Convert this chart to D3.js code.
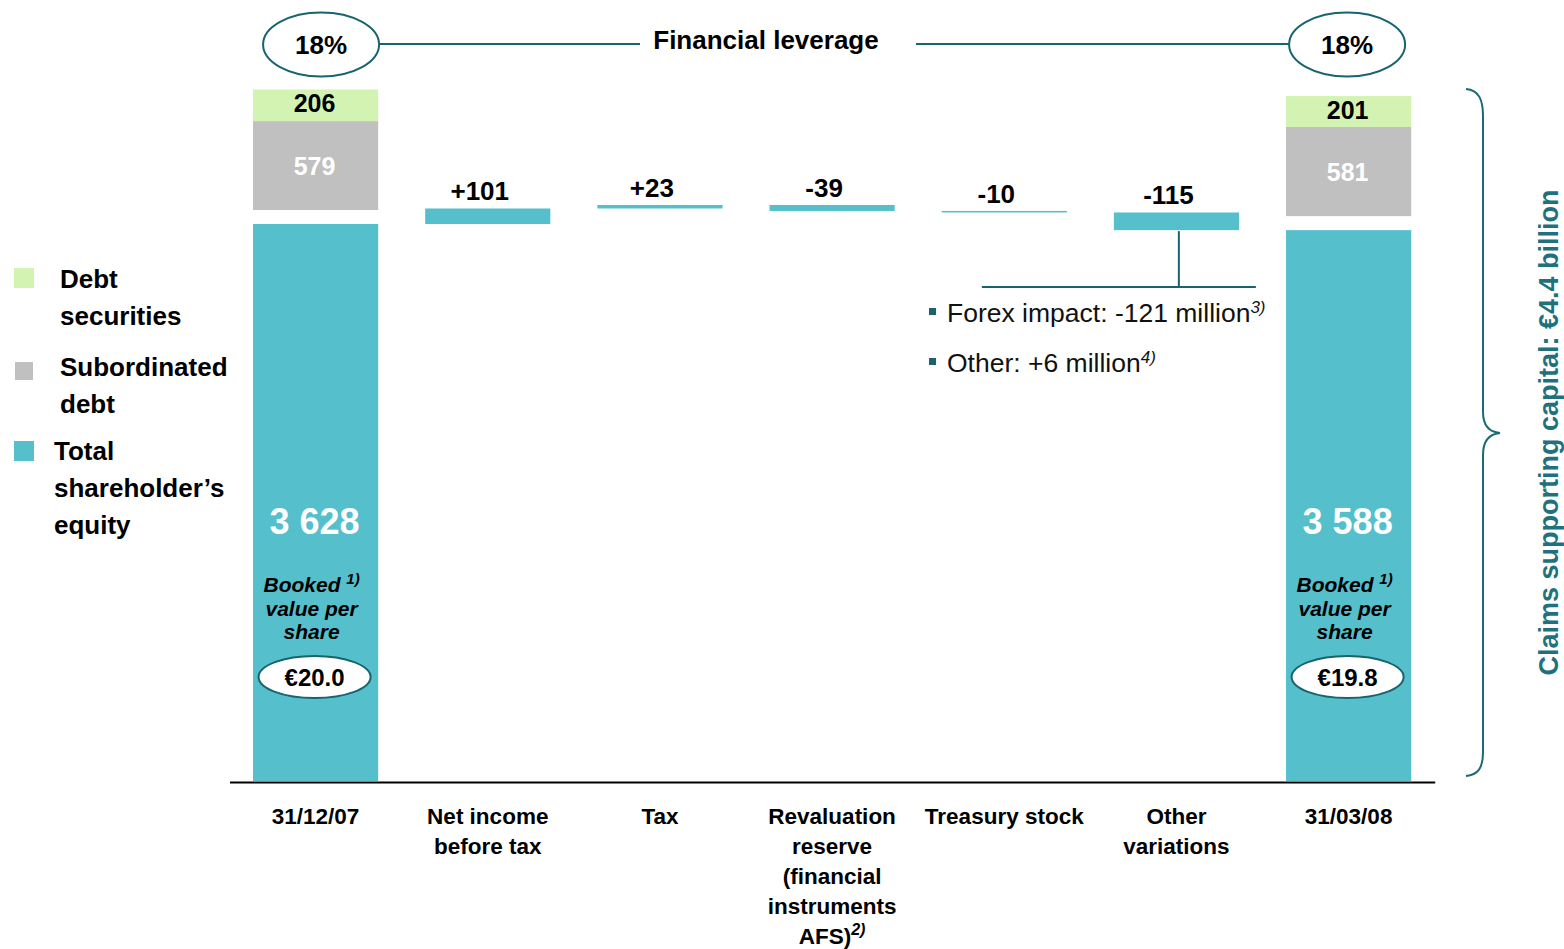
<!DOCTYPE html>
<html>
<head>
<meta charset="utf-8">
<script src="https://cdn.jsdelivr.net/npm/d3@7"></script>
<style>
  html, body { margin: 0; padding: 0; background: #fff; }
  svg { display: block; font-family: "Liberation Sans", Arial, sans-serif; }
</style>
</head>
<body>
<svg id="chart" width="1564" height="949"></svg>
<script>
// ---- Data ----
const categories = ["31/12/07", "Net income before tax", "Tax", "Revaluation reserve", "Treasury stock", "Other variations", "31/03/08"];
const categoryLines = [
  ["31/12/07"],
  ["Net income", "before tax"],
  ["Tax"],
  ["Revaluation", "reserve", "(financial", "instruments", "AFS)|2)"],
  ["Treasury stock"],
  ["Other", "variations"],
  ["31/03/08"]
];
const endpointCats = ["31/12/07", "31/03/08"];
const equity = [3628, 3588];
const subordinatedDebt = [579, 581];
const debtSecurities = [206, 201];
const bookValuePerShare = ["€20.0", "€19.8"];
const leverage = ["18%", "18%"];
const changeCats = ["Net income before tax", "Tax", "Revaluation reserve", "Treasury stock", "Other variations"];
const changes = [101, 23, -39, -10, -115];
const changeLabels = ["+101", "+23", "-39", "-10", "-115"];
const legendItems = [
  { key: "debt", lines: ["Debt", "securities"] },
  { key: "sub", lines: ["Subordinated", "debt"] },
  { key: "equity", lines: ["Total", "shareholder’s", "equity"] }
];
const forexNotes = [["Forex impact: -121 million", "3)"], ["Other: +6 million", "4)"]];
const braceLabel = "Claims supporting capital: €4.4 billion";
const titleText = "Financial leverage";

// ---- Styles ----
const C = { equity: "#55bfcc", sub: "#c0c0c0", debt: "#d3f3b3", dark: "#17646f", brace: "#1c6a76", label: "#1f727d" };

const svg = d3.select("#chart");

const x = d3.scaleBand().domain(categories).range([229.5, 1434.7]).paddingInner(0.273).paddingOuter(0.1365);
const y = d3.scaleLinear().domain([0, 4000]).range([781, 781 - 4000 * 0.15353]);
const gap = 14;

// ---- Endpoint stacked bars ----
endpointCats.forEach((cat, i) => {
  const x0 = x(cat), bw = x.bandwidth(), cx = x0 + bw / 2;
  const eqTop = y(equity[i]);
  svg.append("rect").attr("x", x0).attr("y", eqTop).attr("width", bw).attr("height", y(0) - eqTop).attr("fill", C.equity);
  const subBottom = eqTop - gap;
  const subH = y(0) - y(subordinatedDebt[i]);
  const subTop = subBottom - subH;
  svg.append("rect").attr("x", x0).attr("y", subTop).attr("width", bw).attr("height", subH).attr("fill", C.sub);
  const debtH = y(0) - y(debtSecurities[i]);
  const debtTop = subTop - debtH;
  svg.append("rect").attr("x", x0).attr("y", debtTop).attr("width", bw).attr("height", debtH).attr("fill", C.debt);

  svg.append("text").attr("x", cx - 1).attr("y", debtTop + debtH / 2 + 7).attr("text-anchor", "middle")
    .attr("font-size", 25).attr("font-weight", "bold").attr("fill", "#000").text(debtSecurities[i]);
  svg.append("text").attr("x", cx - 1).attr("y", subTop + subH / 2 + 9).attr("text-anchor", "middle")
    .attr("font-size", 25).attr("font-weight", "bold").attr("fill", "#fff").text(subordinatedDebt[i]);
  svg.append("text").attr("x", cx - 1).attr("y", 534).attr("text-anchor", "middle")
    .attr("font-size", 36).attr("font-weight", "bold").attr("fill", "#fff")
    .text(d3.format(",")(equity[i]).replace(",", " "));

  const bx = cx - 4;
  const booked = svg.append("text").attr("x", bx).attr("y", 592).attr("text-anchor", "middle")
    .attr("font-size", 21).attr("font-weight", "bold").attr("font-style", "italic");
  booked.append("tspan").text("Booked ");
  booked.append("tspan").attr("font-size", 15).attr("dy", -8).text("1)");
  svg.append("text").attr("x", bx).attr("y", 616).attr("text-anchor", "middle")
    .attr("font-size", 21).attr("font-weight", "bold").attr("font-style", "italic").text("value per");
  svg.append("text").attr("x", bx).attr("y", 639).attr("text-anchor", "middle")
    .attr("font-size", 21).attr("font-weight", "bold").attr("font-style", "italic").text("share");

  svg.append("ellipse").attr("cx", cx - 1).attr("cy", 677).attr("rx", 56).attr("ry", 21)
    .attr("fill", "#fff").attr("stroke", C.dark).attr("stroke-width", 2);
  svg.append("text").attr("x", cx - 1).attr("y", 686).attr("text-anchor", "middle")
    .attr("font-size", 24).attr("font-weight", "bold").text(bookValuePerShare[i]);

  // leverage ellipses
  const ex = cx + (i === 0 ? 5.5 : -1.5);
  svg.append("ellipse").attr("cx", ex).attr("cy", 44.5).attr("rx", 58).attr("ry", 32)
    .attr("fill", "#fff").attr("stroke", C.dark).attr("stroke-width", 2);
  svg.append("text").attr("x", ex).attr("y", 54).attr("text-anchor", "middle")
    .attr("font-size", 26).attr("font-weight", "bold").text(leverage[i]);
});

// ---- Waterfall change bars ----
let running = equity[0];
changeCats.forEach((cat, i) => {
  const start = running, end = running + changes[i];
  running = end;
  const top = y(Math.max(start, end)), bot = y(Math.min(start, end));
  svg.append("rect").attr("x", x(cat)).attr("y", top).attr("width", x.bandwidth())
    .attr("height", Math.max(bot - top, 1.5)).attr("fill", C.equity);
  svg.append("text").attr("x", x(cat) + x.bandwidth() / 2 - 8).attr("y", top - 8).attr("text-anchor", "middle")
    .attr("font-size", 26).attr("font-weight", "bold").text(changeLabels[i]);
});

// ---- Leverage connector line & title ----
svg.append("line").attr("x1", 379).attr("x2", 640).attr("y1", 44).attr("y2", 44).attr("stroke", C.dark).attr("stroke-width", 2);
svg.append("line").attr("x1", 916).attr("x2", 1289).attr("y1", 44).attr("y2", 44).attr("stroke", C.dark).attr("stroke-width", 2);
svg.append("text").attr("x", 766).attr("y", 49).attr("text-anchor", "middle")
  .attr("font-size", 26).attr("font-weight", "bold").text(titleText);

// ---- X axis ----
const axis = svg.append("g").attr("transform", "translate(0,782)")
  .call(d3.axisBottom(x).tickSize(0).tickFormat(""));
axis.select(".domain").attr("stroke", "#000").attr("stroke-width", 2);
axis.selectAll(".tick").each(function(d, i) {
  const t = d3.select(this).append("text").attr("fill", "#000").attr("text-anchor", "middle")
    .attr("font-size", 22.5).attr("font-weight", "bold").attr("y", 42);
  categoryLines[i].forEach((ln, j) => {
    const parts = ln.split("|");
    t.append("tspan").attr("x", 0).attr("y", 42 + j * 30).text(parts[0]);
    if (parts[1]) {
      t.append("tspan").attr("font-size", 16).attr("font-style", "italic").attr("dy", -9).text(parts[1]);
    }
  });
});

// ---- Legend ----
const legendColors = { debt: C.debt, sub: C.sub, equity: C.equity };
const legendLayout = [
  { sq: [14, 268, 20], tx: 60, base: 288 },
  { sq: [15, 362, 18], tx: 60, base: 376 },
  { sq: [14, 441, 20], tx: 54, base: 460 }
];
legendItems.forEach((it, i) => {
  const L = legendLayout[i];
  svg.append("rect").attr("x", L.sq[0]).attr("y", L.sq[1]).attr("width", L.sq[2]).attr("height", L.sq[2]).attr("fill", legendColors[it.key]);
  it.lines.forEach((ln, j) => {
    svg.append("text").attr("x", L.tx).attr("y", L.base + j * 37).attr("font-size", 26).attr("font-weight", "bold").text(ln);
  });
});

// ---- Other variations annotation ----
const ox = x("Other variations");
const oBottom = y(equity[1]);
svg.append("line").attr("x1", ox + 65).attr("x2", ox + 65).attr("y1", oBottom + 1).attr("y2", 287).attr("stroke", C.dark).attr("stroke-width", 2);
svg.append("line").attr("x1", ox - 132).attr("x2", ox + 142).attr("y1", 287).attr("y2", 287).attr("stroke", C.dark).attr("stroke-width", 2);
forexNotes.forEach((n, i) => {
  svg.append("rect").attr("x", 929).attr("y", 308 + i * 50).attr("width", 7).attr("height", 7).attr("fill", C.dark);
  const t = svg.append("text").attr("x", 947).attr("y", 322 + i * 50).attr("font-size", 26.5).attr("fill", "#111");
  t.append("tspan").text(n[0]);
  t.append("tspan").attr("font-size", 17).attr("font-style", "italic").attr("dy", -9).text(n[1]);
});

// ---- Brace ----
svg.append("path")
  .attr("d", "M1466,89 C1479,90 1483,100 1483,116 L1483,412 C1483,426 1489,432 1500,433 C1489,434 1483,441 1483,455 L1483,752 C1483,768 1478,775 1466,776")
  .attr("fill", "none").attr("stroke", C.brace).attr("stroke-width", 2);
svg.append("text").attr("transform", "translate(1558,432.5) rotate(-90)").attr("text-anchor", "middle")
  .attr("font-size", 27).attr("font-weight", "bold").attr("fill", C.label).text(braceLabel);
</script>
</body>
</html>
